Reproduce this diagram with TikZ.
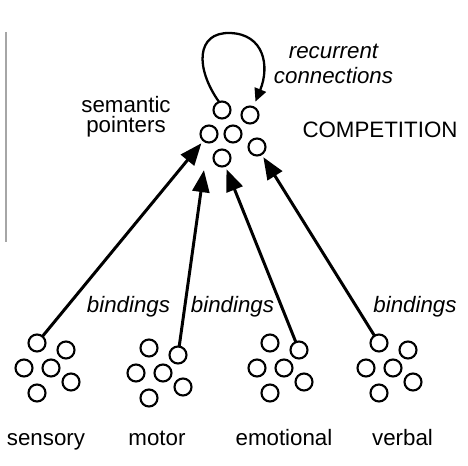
\documentclass[tikz,border=0pt]{standalone}
\usepackage{fontspec}
\setmainfont{Liberation Sans}
\usepackage{tikz}
\usetikzlibrary{arrows.meta,calc,positioning}

\begin{document}
\begin{tikzpicture}[x=0.02cm,y=-0.02cm,every node/.style={outer sep=0pt},
        unit/.style={draw,circle,line width=1.2pt,minimum size=0.34cm,inner sep=0pt},
        binding/.style={line width=1.7pt,-{Triangle[length=0.44cm,width=0.34cm]},shorten >=0.07cm},
        recur/.style={line width=1.3pt,-{Triangle[length=0.26cm,width=0.24cm]},shorten >=0.12cm},
        lbl/.style={font=\fontsize{12.7}{15}\selectfont,anchor=base,inner sep=0pt},
        ital/.style={lbl,font=\fontsize{12.7}{15}\selectfont\itshape},
        cluster/.pic={\node[unit] (-1) at (-14,-25) {};
        \node[unit] (-2) at (15,-18) {};
        \node[unit] (-3) at (-27,0) {};
        \node[unit] (-4) at (0,0) {};
        \node[unit] (-5) at (20,14) {};
        \node[unit] (-6) at (-14,25) {};}]
        \useasboundingbox (0,0) rectangle (468,466);

        % Edge of the page
        \draw[gray!70,line width=0.6pt] (6,32) -- (6,242);

        % Semantic pointers
        \node[unit] (p1) at (222,110) {};
        \node[unit] (p2) at (250,115) {};
        \node[unit] (p3) at (209,134) {};
        \node[unit] (p4) at (233,134) {};
        \node[unit] (p5) at (257,147) {};
        \node[unit] (p6) at (222,158) {};
        \node[lbl,anchor=center,align=center,font=\fontsize{12.7}{11.5}\selectfont] (sem) at (126,117) {semantic\\pointers};
        \node[lbl] (comp) at (380,138) {COMPETITION};

        % Recurrent loop
        \draw[recur] (p1.110) .. controls (195,68) and (196,32) .. (230,33)
            .. controls (264,34) and (270,66) .. (p2);
        \node[ital,anchor=center,align=center,font=\fontsize{12.7}{14.2}\selectfont\itshape] (rec) at (333.5,64) {recurrent\\connections};

        % Input populations
        \pic (sen) at (51,368) {cluster};
        \pic (mot) at (163,373) {cluster};
        \pic (emo) at (284,368) {cluster};
        \pic (ver) at (393,368) {cluster};
        \node[lbl] (lsen) at (46,446) {sensory};
        \node[lbl] (lmot) at (157,446) {motor};
        \node[lbl] (lemo) at (284,446) {emotional};
        \node[lbl] (lver) at (402.5,446) {verbal};

        % Bindings
        \draw[binding] (sen-1) -- (p3);
        \draw[binding,shorten >=0.56cm] (mot-2) -- (p3);
        \draw[binding] (emo-2) -- (p6);
        \draw[binding] (ver-1) -- (p5);
        \node[ital] (b1) at (128.5,313) {bindings};
        \node[ital] (b2) at (232.5,313) {bindings};
        \node[ital] (b4) at (415,313) {bindings};

    \end{tikzpicture}
\end{document}
